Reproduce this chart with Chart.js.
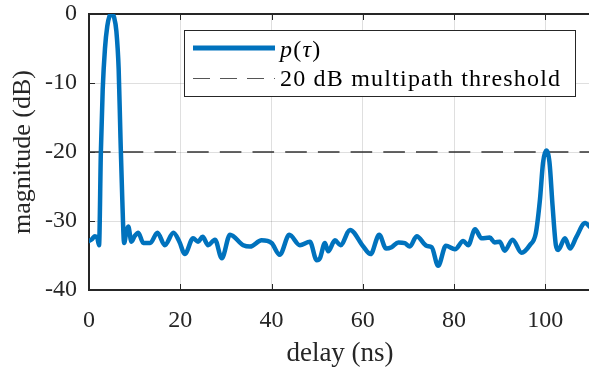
<!DOCTYPE html>
<html>
<head>
<meta charset="utf-8">
<script src="https://cdn.jsdelivr.net/npm/chart.js@4"></script>
<style>
  html, body { margin: 0; padding: 0; background: #fff; overflow: hidden; }
  #wrap { width: 589px; height: 374px; overflow: hidden; }
</style>
</head>
<body>
<div id="wrap"><canvas id="chart" width="592" height="374"></canvas></div>
<script>
// ---- DATA ----
const delayNs = [
  0, 0.7, 1.3, 1.8, 2.2, 2.6, 3.0, 3.5, 4.0, 4.5, 5.0, 5.5, 6.0, 6.5, 6.9, 7.3, 7.7,
  8.2, 8.6, 9.3, 10.0, 10.8, 11.9, 13.4, 15.0, 16.6, 18.5, 19.8, 21.0, 22.8, 23.9,
  24.9, 26.1, 27.6, 29.1, 30.9, 33.8, 35.3, 37.8, 40.0, 41.8, 43.9, 46.2, 48.4,
  49.9, 50.6, 51.7, 52.4, 53.9, 55.1, 57.2, 60.1, 61.7, 63.6, 65.1, 66.3, 67.8,
  69.2, 70.3, 71.8, 74.0, 75.1, 76.5, 78.2, 80.2, 82.0, 83.1, 84.6, 86.0, 87.8,
  88.9, 90.0, 91.1, 92.8, 94.8, 96.6, 97.9, 98.8, 99.5, 100.2, 100.9, 101.6,
  102.3, 102.8, 104.3, 105.4, 106.8, 108.7, 110
];
const magnitudeDb = [
  -32.9, -32.6, -32.2, -32.4, -33.5, -20, -11, -5, -1.8, -0.3, 0, -0.5, -2.5, -8, -18, -27, -33.2,
  -31.5, -30.8, -33, -32.2, -31.7, -33.2, -33.2, -31.7, -33.5, -31.7, -33, -34.8, -32.5, -33,
  -32.3, -33.5, -32.7, -35.4, -32, -33.5, -33.7, -32.8, -33.2, -34.9, -32, -33.5, -33,
  -35.7, -35.4, -33.2, -34.4, -32.8, -33.5, -31.3, -33.7, -34.8, -32, -34, -33.8, -33.1,
  -33.2, -33.7, -32.2, -33.6, -33.8, -36.5, -33.6, -34.1, -32.9, -33.5, -31.2, -32.5, -32.4,
  -33.1, -33, -34.3, -32.7, -34.6, -33.5, -31.8, -27, -21.5, -19.8, -21.5, -28,
  -33.5, -34.2, -32.5, -34, -32.3, -30.3, -31
];
const thresholdDb = -20;
const xRange = [0, 110];
const yRange = [-40, 0];
const xTicks = [0, 20, 40, 60, 80, 100];
const yTicks = [-40, -30, -20, -10, 0];
const legendLabels = ['p(τ)', '20 dB multipath threshold'];

// ---- STYLE ----
const BLUE = '#0072BD';
const AXIS = '#262626';
const SERIF = "'Liberation Serif', 'Times New Roman', serif";

// frame on top edge + inward tick marks (MATLAB style)
const framePlugin = {
  id: 'frame',
  beforeDatasetsDraw(chart) {
    const { ctx, chartArea: a, scales: { x, y } } = chart;
    ctx.save();
    ctx.strokeStyle = AXIS;
    ctx.lineWidth = 2;
    ctx.beginPath();
    ctx.moveTo(a.left - 1, a.top);
    ctx.lineTo(a.right + 1, a.top);
    ctx.stroke();
    ctx.lineWidth = 1;
    ctx.beginPath();
    xTicks.forEach(v => {
      const px = Math.round(x.getPixelForValue(v)) + 0.5;
      ctx.moveTo(px, a.bottom); ctx.lineTo(px, a.bottom - 6);
      ctx.moveTo(px, a.top); ctx.lineTo(px, a.top + 6);
    });
    yTicks.forEach(v => {
      const py = Math.round(y.getPixelForValue(v)) + 0.5;
      ctx.moveTo(a.left, py); ctx.lineTo(a.left + 6, py);
    });
    ctx.stroke();
    ctx.restore();
  }
};

// boxed legend inside the axes
const legendPlugin = {
  id: 'boxLegend',
  afterDatasetsDraw(chart) {
    const { ctx } = chart;
    const L = 184.5, T = 30.5, W = 391, H = 66;
    ctx.save();
    ctx.fillStyle = '#fff';
    ctx.fillRect(L, T, W, H);
    ctx.strokeStyle = AXIS;
    ctx.lineWidth = 1;
    ctx.strokeRect(L, T, W, H);

    ctx.strokeStyle = BLUE;
    ctx.lineWidth = 5;
    ctx.beginPath();
    ctx.moveTo(193, 48); ctx.lineTo(275, 48);
    ctx.stroke();

    ctx.strokeStyle = '#555';
    ctx.lineWidth = 1;
    ctx.setLineDash([17, 10]);
    ctx.beginPath();
    ctx.moveTo(193, 78.5); ctx.lineTo(275, 78.5);
    ctx.stroke();
    ctx.setLineDash([]);

    ctx.fillStyle = '#000';
    ctx.textBaseline = 'alphabetic';
    ctx.letterSpacing = '1.2px';
    // p(τ) with italic symbols
    let cx = 280;
    const parts = [['p', true], ['(', false], ['τ', true], [')', false]];
    parts.forEach(([s, it]) => {
      ctx.font = (it ? 'italic ' : '') + '24px ' + SERIF;
      ctx.fillText(s, cx, 57);
      cx += ctx.measureText(s).width;
    });
    ctx.font = '24px ' + SERIF;
    ctx.fillText(legendLabels[1], 280, 86);
    ctx.restore();
  }
};

new Chart(document.getElementById('chart'), {
  type: 'line',
  data: {
    datasets: [
      {
        label: legendLabels[0],
        data: delayNs.map((d, i) => ({ x: d, y: magnitudeDb[i] })),
        borderColor: BLUE,
        borderWidth: 4.5,
        pointRadius: 0,
        cubicInterpolationMode: 'monotone',
        borderJoinStyle: 'round',
        borderCapStyle: 'round',
        fill: false,
      },
      {
        label: legendLabels[1],
        data: xRange.map(d => ({ x: d, y: thresholdDb })),
        borderColor: '#333',
        borderWidth: 1.6,
        borderDash: [21.6, 11.1],
        pointRadius: 0,
        fill: false,
      },
    ],
  },
  options: {
    responsive: false,
    animation: false,
    devicePixelRatio: 1,
    layout: { padding: { top: 14, left: 0, right: 1, bottom: 0 } },
    plugins: { legend: { display: false }, tooltip: { enabled: false } },
    scales: {
      x: {
        type: 'linear', min: xRange[0], max: xRange[1],
        afterBuildTicks: s => { s.ticks = xTicks.map(v => ({ value: v })); },
        afterFit: s => { s.height = 84; s.paddingLeft = 0; s.paddingRight = 0; },
        grid: { color: 'rgba(38,38,38,0.15)', drawTicks: false },
        border: { color: AXIS, width: 2 },
        ticks: { color: AXIS, padding: 16, maxRotation: 0, font: { family: SERIF, size: 24 } },
        title: { display: true, text: 'delay (ns)', color: AXIS,
                 padding: { top: 0, bottom: 4 }, font: { family: SERIF, size: 27 } },
      },
      y: {
        type: 'linear', min: yRange[0], max: yRange[1],
        afterBuildTicks: s => { s.ticks = yTicks.map(v => ({ value: v })); },
        afterFit: s => { s.width = 89; s.paddingTop = 0; s.paddingBottom = 0; },
        grid: { color: 'rgba(38,38,38,0.15)', drawTicks: false },
        border: { color: AXIS, width: 2 },
        ticks: { color: AXIS, padding: 12, font: { family: SERIF, size: 24 } },
        title: { display: true, text: 'magnitude (dB)', color: AXIS,
                 padding: { top: 8, bottom: 0 }, font: { family: SERIF, size: 26 } },
      },
    },
  },
  plugins: [framePlugin, legendPlugin],
});
</script>
</body>
</html>
